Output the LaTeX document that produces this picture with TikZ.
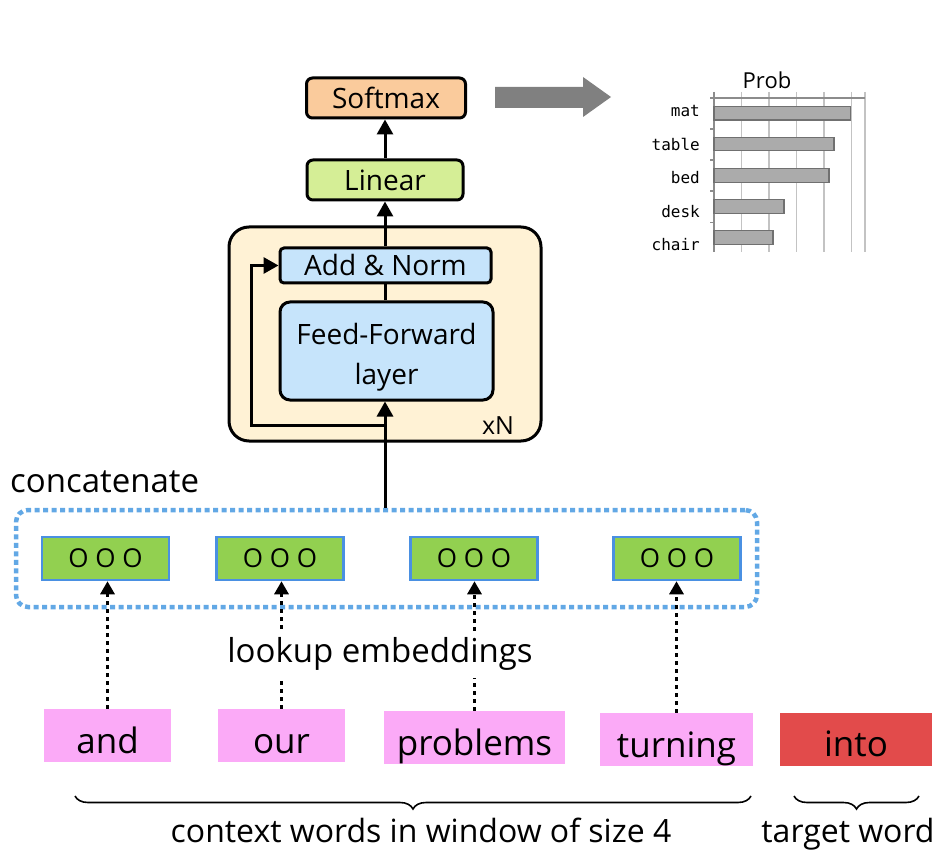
\documentclass[tikz,border=0pt]{standalone}
\usepackage{fontspec}
\setmainfont{Open Sans}
\newfontfamily\monof{DejaVu Sans Mono}
\usetikzlibrary{arrows.meta,decorations.pathreplacing}
\newcommand\fs[1]{\fontsize{#1}{#1}\selectfont}
\newcommand\fsl[2]{\fontsize{#1}{#2}\selectfont}
\definecolor{softc}{RGB}{250,203,156}
\definecolor{linc}{RGB}{213,238,150}
\definecolor{creamc}{RGB}{255,242,213}
\definecolor{bluec}{RGB}{198,228,251}
\definecolor{embc}{RGB}{146,208,80}
\definecolor{embb}{RGB}{74,144,226}
\definecolor{dotb}{RGB}{98,168,229}
\definecolor{pinkc}{RGB}{251,170,247}
\definecolor{redc}{RGB}{226,75,75}
\definecolor{grayar}{RGB}{128,128,128}
\definecolor{gridc}{RGB}{195,195,195}
\definecolor{axc}{RGB}{140,140,140}
\definecolor{barf}{RGB}{171,171,171}
\definecolor{barb}{RGB}{112,112,112}
\tikzset{
  blk/.style={draw=black, line width=3pt, rounded corners=6pt, inner sep=0pt, align=center, font=\fs{28}},
  arr/.style={line width=3pt, -{Triangle[length=15pt,width=16pt]}},
  dotarr/.style={line width=3pt, dash pattern=on 4pt off 4pt, -{Triangle[length=13pt,width=14pt]}},
  embbox/.style={draw=embb, fill=embc, line width=2.5pt, minimum width=127pt, minimum height=43pt, inner sep=0pt, font=\fs{26}},
  wordbox/.style={fill=pinkc, minimum height=53pt, inner sep=0pt, text height=35pt, text depth=0pt, font=\fs{35}},
  lbl/.style={inner sep=0pt, font=\fs{33}},
  barlbl/.style={anchor=east, inner sep=0pt, font=\monof\fs{16}},
  brc/.style={decorate, decoration={brace, mirror, amplitude=13pt}, line width=1.6pt},
}
\begin{document}
\begin{tikzpicture}[x=1pt,y=-1pt]
\useasboundingbox (0,0) rectangle (940,850);
% transformer block
\node[draw=black, fill=creamc, line width=3pt, rounded corners=20pt, minimum width=312pt, minimum height=214pt] (blkN) at (385,334) {};
\node[anchor=center, inner sep=0pt, font=\fs{25}] (xn) at (498,426) {xN};
\node[blk, fill=softc, minimum width=159pt, minimum height=40pt] (soft) at (386,98) {Softmax};
\node[blk, fill=linc, minimum width=156pt, minimum height=40pt] (lin) at (385,180) {Linear};
\node[blk, fill=bluec, rounded corners=4pt, minimum width=211pt, minimum height=35pt] (add) at (385.5,265.5) {Add \& Norm};
\node[blk, fill=bluec, rounded corners=10pt, minimum width=213pt, minimum height=98pt, font=\fsl{28}{40}] (ff) at (386.5,351) {\rule{0pt}{34pt}Feed-Forward\\layer};
% concatenated embeddings
\node[draw=dotb, line width=4.5pt, dash pattern=on 5pt off 3.5pt, rounded corners=12pt, minimum width=741pt, minimum height=97pt] (cat) at (386.5,558.5) {};
\node[embbox] (e1) at (105.5,558.5) {O O O};
\node[embbox] (e2) at (280,558.5) {O O O};
\node[embbox] (e3) at (474,558.5) {O O O};
\node[embbox] (e4) at (677,558.5) {O O O};
% spine connectors
\coordinate (split) at (385,425);
\coordinate (rl) at (251,425);
\draw[arr] (cat.north -| lin.south) -- (ff.south -| lin.south);
\draw[line width=3pt] (ff.north -| lin.south) -- (add.south -| lin.south);
\draw[arr] (add.north -| lin.south) -- (lin.south);
\draw[arr] (lin.north) -- (lin.north |- soft.south);
\draw[arr] (split) -- (rl) |- (add.west);
% words
\node[wordbox, minimum width=127pt] (w1) at (107.5,735.5) {and};
\node[wordbox, minimum width=127pt] (w2) at (281.5,735.5) {our};
\node[wordbox, minimum width=181pt] (w3) at (474.5,737.5) {problems};
\node[wordbox, minimum width=153pt] (w4) at (676.5,739.5) {turning};
\node[wordbox, fill=redc, minimum width=152pt] (tgt) at (856,739) {into};
\draw[dotarr] (w1.north) -- (w1.north |- e1.south);
\draw[dotarr] (w2.north) -- (w2.north |- e2.south);
\draw[dotarr] (w3.north) -- (w3.north |- e3.south);
\draw[dotarr] (w4.north) -- (w4.north |- e4.south);
\node[lbl, fill=white, inner xsep=4pt, inner ysep=7pt] (look) at (380,654) {lookup embeddings};
\node[lbl, anchor=base west] (conc) at (10,492) {concatenate};
% braces
\coordinate (b1a) at (75,796);
\coordinate (b1b) at (751,796);
\coordinate (b2a) at (794,796);
\coordinate (b2b) at (919,796);
\draw[brc] (b1a) -- (b1b);
\draw[brc] (b2a) -- (b2b);
\node[lbl, font=\fs{32}, anchor=base] (ctx) at (421,842) {context words in window of size 4};
\node[lbl, font=\fs{32}, anchor=base] (tw) at (848,842) {target word};
% gray arrow
\fill[grayar] (495,87) -- (583,87) -- (583,77) -- (611,97) -- (583,117) -- (583,108) -- (495,108) -- cycle;
% chart
\foreach \gx in {741.5,769,796.5,824,851.5,865} \draw[gridc, line width=1.3pt] (\gx,92) -- (\gx,252);
\draw[axc, line width=1.3pt] (710,98) -- (865,98);
\draw[axc, line width=1.3pt] (714,92) -- (714,252);
\foreach \ty in {129,160,191,222.7} \draw[axc, line width=1.3pt] (710,\ty) -- (714,\ty);
\foreach \yt/\yb/\xr in {106.7/120/850.7, 137.3/150.7/834, 168.3/182.3/829, 199.3/213.3/784, 230.7/244.3/773}
  \draw[fill=barf, draw=barb, line width=1.2pt] (714,\yt) rectangle (\xr,\yb);
\node[barlbl] (lmat) at (700,110.7) {mat};
\node[barlbl] (ltab) at (700,144) {table};
\node[barlbl] (lbed) at (700,178) {bed};
\node[barlbl] (ldesk) at (700,211.7) {desk};
\node[barlbl] (lch) at (700,245) {chair};
\node[inner sep=0pt, font=\fs{22}] (prob) at (767,80) {Prob};
\end{tikzpicture}
\end{document}
